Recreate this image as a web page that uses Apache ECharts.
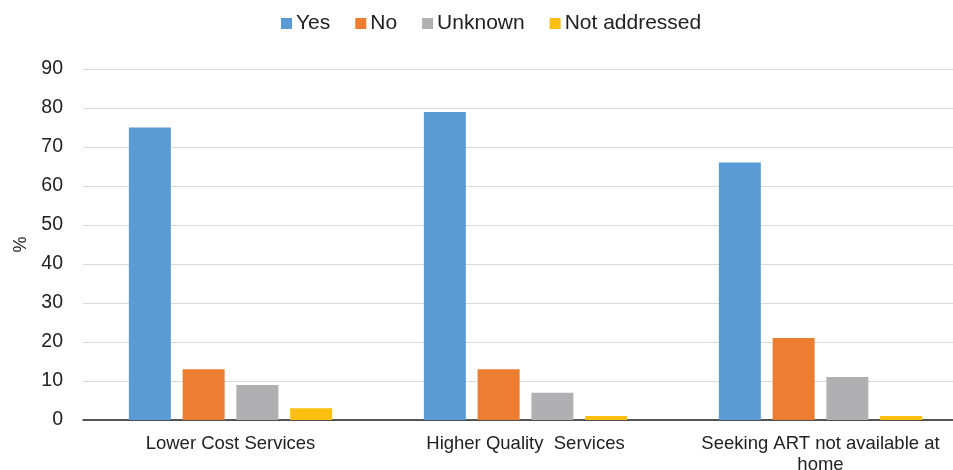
<!DOCTYPE html>
<html>
<head>
<meta charset="utf-8">
<script src="https://cdn.jsdelivr.net/npm/echarts@6/dist/echarts.min.js"></script>
<style>
  html, body { margin: 0; padding: 0; background: #fff; overflow: hidden; }
  #chart { width: 953px; height: 470px; }
</style>
</head>
<body>
<div id="chart"></div>
<script>
var categories = ["Lower Cost Services", "Higher Quality  Services", "Seeking ART not available at\nhome"];
var seriesNames = ["Yes", "No", "Unknown", "Not addressed"];
var yesValues = [75, 79, 66];
var noValues = [13, 13, 21];
var unknownValues = [9, 7, 11];
var notAddressedValues = [3, 1, 1];
var colors = ["#5b9bd5", "#ed7d31", "#b0b0b3", "#fcbf0f"];

var chart = echarts.init(document.getElementById("chart"));
var allValues = [yesValues, noValues, unknownValues, notAddressedValues];
var series = allValues.map(function (vals, i) {
    return {
        name: seriesNames[i],
        type: "bar",
        data: vals,
        barWidth: 42,
        barGap: "28%",
        itemStyle: { color: colors[i] }
    };
});

var option = {
    animation: false,
    textStyle: { fontFamily: "Liberation Sans, Arial, sans-serif" },
    color: colors,
    legend: {
        data: seriesNames,
        top: 8,
        left: 276,
        itemWidth: 11,
        itemHeight: 11,
        itemGap: 25,
        icon: "rect",
        textStyle: { color: "#222", fontSize: 21, padding: [0, 0, 0, -1] }
    },
    // plot area runs past the right edge in the source image
    grid: { left: 83, width: 885, top: 69, bottom: 50, containLabel: false, outerBoundsMode: "none" },
    xAxis: {
        type: "category",
        data: categories,
        axisTick: { show: false },
        axisLine: { lineStyle: { color: "#222", width: 1.5 } },
        axisLabel: { color: "#222", fontSize: 18.5, margin: 13, lineHeight: 21, interval: 0 }
    },
    yAxis: {
        type: "value",
        min: 0,
        max: 90,
        interval: 10,
        name: "%",
        nameLocation: "middle",
        nameRotate: 90,
        nameGap: 52,
        nameTextStyle: { color: "#222", fontSize: 18 },
        axisLine: { show: false },
        axisTick: { show: false },
        axisLabel: { color: "#222", fontSize: 19.5, margin: 20 },
        splitLine: { lineStyle: { color: "#d9d9d9", width: 1 } }
    },
    series: series
};
chart.setOption(option);
</script>
</body>
</html>
